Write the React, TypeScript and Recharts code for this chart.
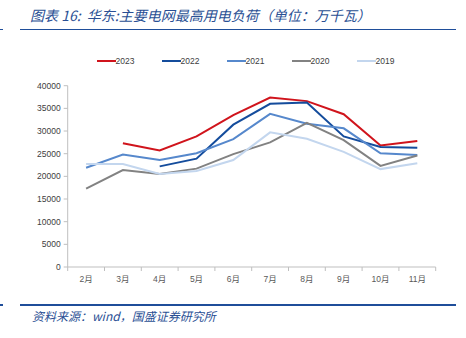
import React from "react";
import { LineChart, Line, XAxis, YAxis } from "recharts";

const months = ["2月", "3月", "4月", "5月", "6月", "7月", "8月", "9月", "10月", "11月"];
const s2023 = [null, 27300, 25700, 28800, 33500, 37400, 36600, 33700, 26800, 27800];
const s2022 = [null, null, 22200, 23900, 31400, 36000, 36300, 28800, 26500, 26300];
const s2021 = [21900, 24800, 23600, 25100, 28200, 33800, 31600, 30600, 25100, 24700];
const s2020 = [17300, 21400, 20500, 21700, 24900, 27500, 31800, 28000, 22300, 24600];
const s2019 = [22700, 22700, 20500, 21200, 23600, 29700, 28300, 25400, 21600, 22900];
const yTicks = [0, 5000, 10000, 15000, 20000, 25000, 30000, 35000, 40000];

const seriesList = [
  { key: "y2023", name: "2023", color: "#D0141C", values: s2023 },
  { key: "y2022", name: "2022", color: "#144C9C", values: s2022 },
  { key: "y2021", name: "2021", color: "#5688CC", values: s2021 },
  { key: "y2020", name: "2020", color: "#828282", values: s2020 },
  { key: "y2019", name: "2019", color: "#C3D6EE", values: s2019 },
];

const data = months.map((m, i) => {
  const row: any = { month: m };
  seriesList.forEach((s) => {
    row[s.key] = s.values[i];
  });
  return row;
});

const axisFont = "'Liberation Sans', Arial, 'Noto Sans CJK SC', sans-serif";

const XTick = (props: any) => {
  const { x, y, payload, index } = props;
  const half = 18.4;
  return (
    <g>
      <line x1={x - half} y1={y - 8} x2={x - half} y2={y - 4} stroke="#BFBFBF" strokeWidth={1} />
      {index === months.length - 1 ? (
        <line x1={x + half} y1={y - 8} x2={x + half} y2={y - 4} stroke="#BFBFBF" strokeWidth={1} />
      ) : null}
      <text x={x} y={y + 7} textAnchor="middle" fontSize={8.5} fill="#595959" fontFamily={axisFont}>
        {payload.value}
      </text>
    </g>
  );
};

export default function App() {
  return (
    <div style={{ position: "absolute", left: 0, top: 0, width: 466, height: 338, background: "#fff", overflow: "hidden" }}>
      <div
        style={{
          position: "absolute",
          left: 30,
          top: 5,
          fontSize: 14,
          fontStyle: "italic",
          color: "#2A4F94",
          fontFamily: "'Noto Sans CJK SC', sans-serif",
          whiteSpace: "nowrap",
          lineHeight: "20px",
        }}
      >
        图表 16:&nbsp; 华东:主要电网最高用电负荷（单位：万千瓦）
      </div>
      <div style={{ position: "absolute", left: 20, top: 28.5, width: 436, height: 1.5, background: "#1F4E9A" }} />
      <div style={{ position: "absolute", left: 0, top: 28.5, width: 3, height: 1.5, background: "#1F4E9A" }} />

      <div style={{ position: "absolute", left: 0, top: 52, width: 466, height: 18 }}>
        {seriesList.map((s, i) => (
          <div
            key={s.key}
            style={{ position: "absolute", left: 96.5 + i * 65, top: 0, height: 18, display: "flex", alignItems: "center" }}
          >
            <div style={{ width: 19, height: 2.5, background: s.color }} />
            <span style={{ fontSize: 8.5, color: "#404040", fontFamily: axisFont, marginLeft: 0 }}>{s.name}</span>
          </div>
        ))}
      </div>

      <div style={{ position: "absolute", left: 0, top: 0 }}>
        <LineChart
          width={466}
          height={338}
          data={data}
          margin={{ top: 85.7, right: 30.3, bottom: 51, left: 7.7 }}
        >
          <XAxis
            dataKey="month"
            height={20}
            stroke="#BFBFBF"
            tickLine={false}
            tick={<XTick />}
            interval={0}
            padding={{ left: 18.4, right: 18.4 }}
          />
          <YAxis
            width={60}
            domain={[0, 40000]}
            ticks={yTicks}
            interval={0}
            stroke="#BFBFBF"
            tickSize={4}
            tick={{ fontSize: 8.5, fill: "#404040", fontFamily: axisFont }}
            tickMargin={3}
          />
          {seriesList.map((s) => (
            <Line
              key={s.key}
              type="linear"
              dataKey={s.key}
              name={s.name}
              stroke={s.color}
              strokeWidth={2}
              dot={false}
              activeDot={false}
              connectNulls={false}
              isAnimationActive={false}
            />
          ))}
        </LineChart>
      </div>

      <div style={{ position: "absolute", left: 20, top: 304, width: 436, height: 1.5, background: "#1F4E9A" }} />
      <div style={{ position: "absolute", left: 0, top: 304, width: 3, height: 1.5, background: "#1F4E9A" }} />
      <div
        style={{
          position: "absolute",
          left: 32,
          top: 307,
          fontSize: 12,
          fontStyle: "italic",
          color: "#2A4F94",
          fontFamily: "'Noto Sans CJK SC', sans-serif",
          whiteSpace: "nowrap",
          lineHeight: "18px",
        }}
      >
        资料来源：wind，国盛证券研究所
      </div>
    </div>
  );
}
